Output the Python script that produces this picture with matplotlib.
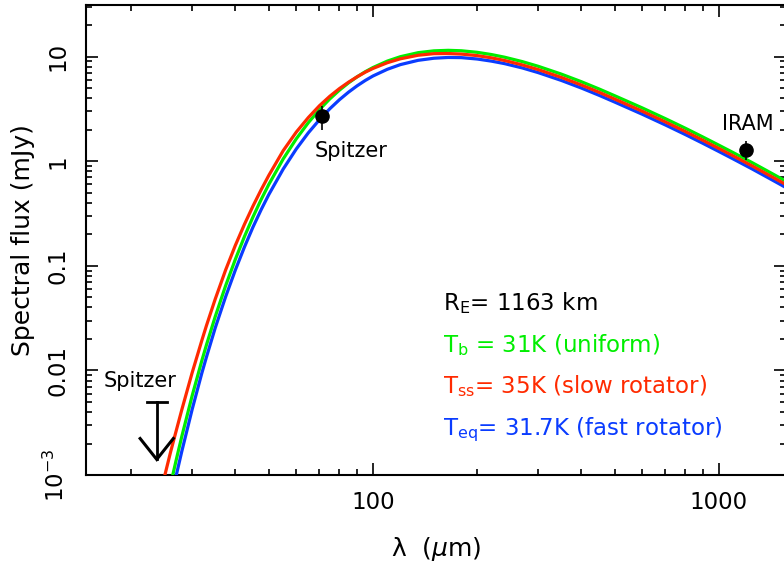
import matplotlib
matplotlib.use('Agg')
import matplotlib.pyplot as plt
from matplotlib.ticker import FixedLocator, FixedFormatter, NullFormatter

plt.rcParams['font.family'] = ['DejaVu Sans']
plt.rcParams['mathtext.default'] = 'regular'

# ---- data ----
wave = [24, 25, 26, 27, 28, 30, 32, 33, 35, 37.5, 40, 42.5, 45, 47.5, 50, 55, 60, 65,
        70, 75, 80, 85, 90, 95, 100, 110, 120, 135, 150, 165, 180, 200, 220, 240,
        270, 300, 350, 400, 450, 500, 600, 700, 800, 900, 1000, 1100, 1250, 1400,
        1500, 1600]
flux_uniform = [2.33e-4, 4.49e-4, 8.14e-4, 1.408e-3, 2.333e-3, 5.725e-3, 0.01241, 0.01755,
                0.03287, 0.06469, 0.1155, 0.1906, 0.2946, 0.4310, 0.6023, 1.0524, 1.638,
                2.336, 3.116, 3.945, 4.791, 5.625, 6.425, 7.184, 7.878, 9.074, 9.996,
                10.92, 11.37, 11.50, 11.39, 11.01, 10.48, 9.888, 8.975, 8.101, 6.819,
                5.768, 4.917, 4.2285, 3.239, 2.557, 2.068, 1.702, 1.424, 1.2096,
                0.9668, 0.7872, 0.694, 0.616]
flux_slow = [5.48e-4, 9.88e-4, 1.669e-3, 2.675e-3, 4.199e-3, 9.50e-3, 0.01936, 0.02686,
             0.04832, 0.09154, 0.1571, 0.2497, 0.3741, 0.5344, 0.7348, 1.2629, 1.900,
             2.616, 3.396, 4.182, 4.959, 5.709, 6.425, 7.112, 7.720, 8.756, 9.546,
             10.319, 10.688, 10.72, 10.59, 10.24, 9.746, 9.196, 8.347, 7.534, 6.342,
             5.364, 4.573, 3.932, 3.012, 2.378, 1.923, 1.583, 1.324, 1.125,
             0.8991, 0.7321, 0.6454, 0.5729]
flux_fast = [1.61e-4, 3.14e-4, 5.74e-4, 1.0e-3, 1.68e-3, 4.237e-3, 9.43e-3, 0.01343,
             0.02564, 0.05078, 0.09125, 0.1515, 0.2357, 0.3448, 0.4818, 0.8419, 1.310,
             1.869, 2.493, 3.176, 3.881, 4.584, 5.27, 5.927, 6.539, 7.577, 8.397,
             9.227, 9.665, 9.83, 9.795, 9.50, 9.065, 8.583, 7.808, 7.048, 5.933,
             5.018, 4.278, 3.679, 2.818, 2.225, 1.799, 1.481, 1.239, 1.052,
             0.8411, 0.6849, 0.6038, 0.5359]

obs_wave = [71.4, 1200]
obs_flux = [2.7, 1.29]
obs_err = [0.7, 0.26]
obs_labels = ['Spitzer', 'IRAM']

ul_wave = 23.7
ul_flux = 0.005
ul_label = 'Spitzer'

yticks = [1e-3, 1e-2, 1e-1, 1, 10]
ytick_labels = ['$10^{-3}$', '0.01', '0.1', '1', '10']
xticks = [100, 1000]
xtick_labels = ['100', '1000']

texts = ['R$_E$= 1163 km', 'T$_b$ = 31K (uniform)',
         'T$_{ss}$= 35K (slow rotator)', 'T$_{eq}$= 31.7K (fast rotator)']

GREEN = '#00ee00'
RED = '#ff2a00'
BLUE = '#0a3cff'

# ---- figure ----
fig = plt.figure(figsize=(7.84, 5.67), dpi=100)
ax = fig.add_axes([86/784, 92/567, 700/784, 470/567])
ax.set_xscale('log')
ax.set_yscale('log')
ax.set_xlim(14.8, 1563)
ax.set_ylim(1e-3, 31.2)

ax.plot(wave, flux_uniform, color=GREEN, lw=2.3, zorder=3)
ax.plot(wave, flux_fast, color=BLUE, lw=2.3, zorder=3)
ax.plot(wave, flux_slow, color=RED, lw=2.3, zorder=4)

ax.errorbar(obs_wave, obs_flux, yerr=obs_err, fmt='o', color='black', ms=9.5,
            elinewidth=1.2, capsize=0, zorder=5)

# upper limit
ax.plot([ul_wave * 10**-0.029, ul_wave * 10**0.029], [ul_flux, ul_flux], color='black', lw=2.0, zorder=5)
tip = ul_flux * 10**-0.55
ax.plot([ul_wave, ul_wave], [ul_flux, tip], color='black', lw=2.0, zorder=5)
ax.plot([ul_wave * 10**-0.048, ul_wave, ul_wave * 10**0.048],
        [tip * 10**0.2, tip, tip * 10**0.2], color='black', lw=2.2, zorder=5,
        solid_joinstyle='miter')

ax.annotate(obs_labels[0], (obs_wave[0], obs_flux[0]), xytext=(-5.5, -29.7),
            textcoords='offset points', ha='left', va='baseline', fontsize=15)
ax.annotate(obs_labels[1], (obs_wave[1], obs_flux[1]), xytext=(0.9, 13.9),
            textcoords='offset points', ha='center', va='baseline', fontsize=15)
ax.annotate(ul_label, (ul_wave, ul_flux), xytext=(-37.9, 10.8),
            textcoords='offset points', ha='left', va='baseline', fontsize=15)

for t, c, yy in zip(texts, ['black', GREEN, RED, BLUE], [0.351, 0.262, 0.1745, 0.085]):
    ax.text(0.51, yy, t, color=c, fontsize=16.5, transform=ax.transAxes,
            ha='left', va='baseline')

# ticks
ax.xaxis.set_major_locator(FixedLocator(xticks))
ax.xaxis.set_major_formatter(FixedFormatter(xtick_labels))
ax.xaxis.set_minor_locator(FixedLocator([m * d for d in (10, 100, 1000) for m in range(2, 10)]))
ax.xaxis.set_minor_formatter(NullFormatter())
ax.yaxis.set_major_locator(FixedLocator(yticks))
ax.yaxis.set_major_formatter(FixedFormatter(ytick_labels))
ax.yaxis.set_minor_locator(FixedLocator([m * d for d in (1e-3, 1e-2, 1e-1, 1, 10) for m in range(2, 10)]))
ax.yaxis.set_minor_formatter(NullFormatter())

ax.tick_params(which='both', direction='in', top=True, right=True, width=1.2, color='black')
ax.tick_params(which='major', length=8.6)
ax.tick_params(which='minor', length=4.3)
ax.tick_params(axis='x', labelsize=16.5, pad=11.5)
ax.tick_params(axis='y', labelsize=16.5, pad=12, labelrotation=90)
for lbl in ax.get_yticklabels():
    lbl.set_va('center')
for s in ax.spines.values():
    s.set_linewidth(1.5)

fig.text(436/784, 1 - 549/567, r'$\lambda$  ($\mathit{\mu}$m)', fontsize=18, ha='center', va='center')
fig.text(23/784, 1 - 240/567, 'Spectral flux (mJy)', fontsize=18, ha='center', va='center', rotation=90)

fig.savefig('out.png', dpi=100)
